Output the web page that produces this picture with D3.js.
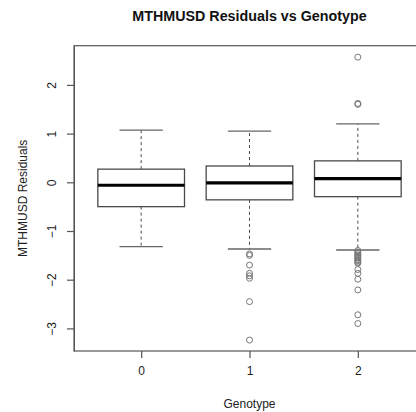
<!DOCTYPE html>
<html>
<head>
<meta charset="utf-8">
<script src="https://cdn.jsdelivr.net/npm/d3@7"></script>
<style>
  body { margin: 0; background: #fff; }
  svg { display: block; font-family: "Liberation Sans", Arial, sans-serif; }
</style>
</head>
<body>
<div id="chart"></div>
<script>
// box stats for each genotype
var genotypes = ["0", "1", "2"];
var q1 = [-0.50, -0.36, -0.295];
var medians = [-0.06, -0.01, 0.075];
var q3 = [0.27, 0.335, 0.44];
var whiskerLow = [-1.32, -1.37, -1.39];
var whiskerHigh = [1.07, 1.05, 1.20];
var outliers = [
  [],
  [-1.47, -1.50, -1.70, -1.87, -1.92, -1.97, -2.45, -3.24],
  [2.57, 1.62, 1.60, -1.40, -1.43, -1.46, -1.49, -1.51, -1.54, -1.56, -1.59, -1.61, -1.64, -1.66,
   -1.79, -1.87, -1.99, -2.21, -2.72, -2.90]
];
var yTicks = [-3, -2, -1, 0, 1, 2];

var width = 416, height = 412;
var margin = { top: 45.7, bottom: 61, left: 74, right: -9 };

var svg = d3.select("#chart")
  .append("svg")
  .attr("width", width)
  .attr("height", height);

// R style extents: 0.5..3.5 plus 4%
var x = d3.scaleLinear()
  .domain([0.38, 3.62])
  .range([margin.left, width - margin.right]);

var y = d3.scaleLinear()
  .domain([-3.464, 2.805])
  .range([height - margin.bottom, margin.top]);

var lineCol = "#4a4a4a";
var boxHalf = 0.4, capHalf = 0.2;

// plot frame
svg.append("rect")
  .attr("x", x(0.38))
  .attr("y", y(2.805))
  .attr("width", x(3.62) - x(0.38))
  .attr("height", y(-3.464) - y(2.805))
  .attr("fill", "none")
  .attr("stroke", "#555")
  .attr("stroke-width", 1.2);

// y axis
var yAxis = svg.append("g")
  .attr("transform", `translate(${margin.left},0)`)
  .call(d3.axisLeft(y).tickValues(yTicks).tickSize(7).tickSizeOuter(0).tickFormat(d3.format("d")));
yAxis.select(".domain").attr("stroke", "#555");
yAxis.selectAll(".tick line").attr("stroke", "#555").attr("stroke-width", 1.2);
yAxis.selectAll(".tick text")
  .attr("transform", "rotate(-90)")
  .attr("x", 0)
  .attr("y", -22)
  .attr("dy", "0.35em")
  .attr("text-anchor", "middle")
  .attr("fill", "#222")
  .style("font-size", "12px");

// x axis
var xAxis = svg.append("g")
  .attr("transform", `translate(0,${height - margin.bottom})`)
  .call(d3.axisBottom(x).tickValues([1, 2, 3]).tickSize(7).tickFormat((d, i) => genotypes[i]));
xAxis.select(".domain").remove();
xAxis.selectAll(".tick line").attr("stroke", "#555").attr("stroke-width", 1.2);
xAxis.selectAll(".tick text")
  .attr("y", 24)
  .attr("dy", "0")
  .attr("fill", "#222")
  .style("font-size", "12px");

// boxes
var groups = svg.append("g")
  .selectAll("g")
  .data(genotypes)
  .join("g");

// whiskers (dashed)
groups.append("line")
  .attr("x1", (d, i) => x(i + 1)).attr("x2", (d, i) => x(i + 1))
  .attr("y1", (d, i) => y(q3[i])).attr("y2", (d, i) => y(whiskerHigh[i]))
  .attr("stroke", lineCol).attr("stroke-dasharray", "3,3");
groups.append("line")
  .attr("x1", (d, i) => x(i + 1)).attr("x2", (d, i) => x(i + 1))
  .attr("y1", (d, i) => y(q1[i])).attr("y2", (d, i) => y(whiskerLow[i]))
  .attr("stroke", lineCol).attr("stroke-dasharray", "3,3");

// staples
groups.append("line")
  .attr("x1", (d, i) => x(i + 1 - capHalf)).attr("x2", (d, i) => x(i + 1 + capHalf))
  .attr("y1", (d, i) => y(whiskerHigh[i])).attr("y2", (d, i) => y(whiskerHigh[i]))
  .attr("stroke", "#666").attr("stroke-width", 1.3);
groups.append("line")
  .attr("x1", (d, i) => x(i + 1 - capHalf)).attr("x2", (d, i) => x(i + 1 + capHalf))
  .attr("y1", (d, i) => y(whiskerLow[i])).attr("y2", (d, i) => y(whiskerLow[i]))
  .attr("stroke", "#666").attr("stroke-width", 1.3);

groups.append("rect")
  .attr("x", (d, i) => x(i + 1 - boxHalf))
  .attr("width", (d, i) => x(i + 1 + boxHalf) - x(i + 1 - boxHalf))
  .attr("y", (d, i) => y(q3[i]))
  .attr("height", (d, i) => y(q1[i]) - y(q3[i]))
  .attr("fill", "#fff")
  .attr("stroke", lineCol)
  .attr("stroke-width", 1.3);

// medians
groups.append("line")
  .attr("x1", (d, i) => x(i + 1 - boxHalf)).attr("x2", (d, i) => x(i + 1 + boxHalf))
  .attr("y1", (d, i) => y(medians[i])).attr("y2", (d, i) => y(medians[i]))
  .attr("stroke", "#000").attr("stroke-width", 3.2);

// outliers
groups.selectAll("circle")
  .data((d, i) => outliers[i].map(v => ({ g: i, v: v })))
  .join("circle")
  .attr("cx", d => x(d.g + 1))
  .attr("cy", d => y(d.v))
  .attr("r", 3)
  .attr("fill", "none")
  .attr("stroke", "#777")
  .attr("stroke-width", 1);

// titles
svg.append("text")
  .attr("x", (x(0.38) + x(3.62)) / 2)
  .attr("y", 21)
  .attr("text-anchor", "middle")
  .style("font-weight", "bold")
  .style("font-size", "14.3px")
  .attr("fill", "#111")
  .text("MTHMUSD Residuals vs Genotype");

svg.append("text")
  .attr("x", (x(0.38) + x(3.62)) / 2)
  .attr("y", 408)
  .attr("text-anchor", "middle")
  .style("font-size", "12px")
  .attr("fill", "#222")
  .text("Genotype");

svg.append("text")
  .attr("transform", `translate(27,${(y(2.805) + y(-3.464)) / 2}) rotate(-90)`)
  .attr("text-anchor", "middle")
  .style("font-size", "12px")
  .attr("fill", "#222")
  .text("MTHMUSD Residuals");
</script>
</body>
</html>
